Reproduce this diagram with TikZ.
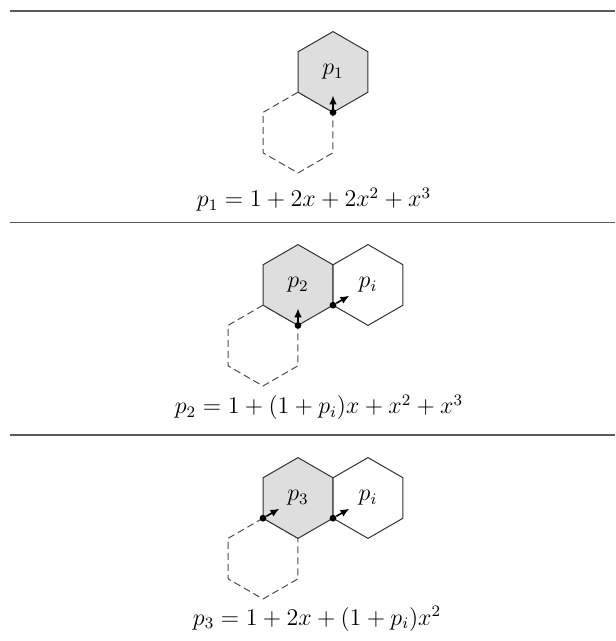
\documentclass[tikz,border=0pt]{standalone}
\usepackage{amsmath}
\usetikzlibrary{arrows.meta,shapes.geometric}

\begin{document}
\begin{tikzpicture}[x=0.5pt, y=0.5pt, every node/.style={font=\fontsize{12}{14}\selectfont}, >={Latex[length=4.5pt,width=3.8pt]},
	hex/.style={regular polygon, regular polygon sides=6, shape border rotate=30, minimum size=40.4pt, inner sep=0pt, outer sep=0pt, draw=black!80, line width=0.5pt},
	cur/.style={hex, fill=black!13},
	nbr/.style={hex, fill=white},
	gone/.style={hex, dash pattern=on 3.5pt off 2pt, draw=black!70},
	rule/.style={draw=black!65, line width=0.8pt},
	dot/.style={circle, fill=black, inner sep=0pt, minimum size=3.4pt}]
	\useasboundingbox (0,0) rectangle (615,641);
	\foreach \y in {630, 418.3, 206} {\draw[rule] (10,\y) -- (615,\y);}
	% first step
	\node[gone] (d1) at (298,508.4) {};
	\node[cur] (c1) at (333,569) {$p_1$};
	\node[dot] (a1) at (c1.-90) {};
	\coordinate (t1) at ([shift={(90:17)}]c1.-90);
	\draw[->, thick] (a1) -- (t1);
	\node[anchor=base] (e1) at (314,434) {$p_1 = 1 + 2x + 2x^2 + x^3$};
	% second step
	\node[gone] (d2) at (263,295.4) {};
	\node[cur] (c2) at (298,356) {$p_2$};
	\node[nbr] (n2) at (368,356) {$p_i$};
	\node[dot] (a2) at (c2.-90) {};
	\node[dot] (b2) at (c2.-30) {};
	\coordinate (t2) at ([shift={(90:17)}]c2.-90);
	\coordinate (s2) at ([shift={(30:19)}]c2.-30);
	\draw[->, thick] (a2) -- (t2);
	\draw[->, thick] (b2) -- (s2);
	\node[anchor=base] (e2) at (319,227) {$p_2 = 1 + (1 + p_i)x + x^2 + x^3$};
	% third step
	\node[gone] (d3) at (263,82.4) {};
	\node[cur] (c3) at (298,143) {$p_3$};
	\node[nbr] (n3) at (368,143) {$p_i$};
	\node[dot] (a3) at (c3.210) {};
	\node[dot] (b3) at (c3.-30) {};
	\coordinate (t3) at ([shift={(30:19)}]c3.210);
	\coordinate (s3) at ([shift={(30:19)}]c3.-30);
	\draw[->, thick] (a3) -- (t3);
	\draw[->, thick] (b3) -- (s3);
	\node[anchor=base] (e3) at (317,16) {$p_3 = 1 + 2x + (1 + p_i)x^2$};
\end{tikzpicture}
\end{document}
